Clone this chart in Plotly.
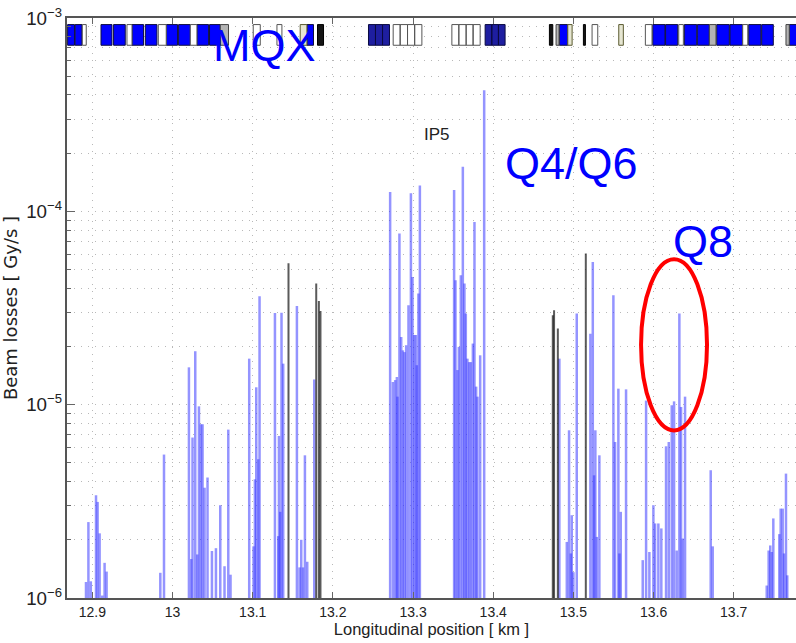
import plotly.graph_objects as go

# ---------------- data ----------------
# beam-loss monitors (blue): position [km], loss [Gy/s]
blue_pos = [12.892, 12.895, 12.898, 12.9045, 12.9065, 12.909, 12.9123, 12.9152, 12.9177,
            12.9847, 12.9893,
            13.0204, 13.0233, 13.0249, 13.0283, 13.0308, 13.0329, 13.0354, 13.0374, 13.0399,
            13.0436, 13.0491, 13.0541, 13.0595, 13.0648, 13.0695, 13.0723,
            13.0956, 13.1010, 13.1027, 13.1044, 13.1069, 13.1085,
            13.1277, 13.1318, 13.1327, 13.1343, 13.1359, 13.1380,
            13.1551, 13.1584, 13.1605, 13.1626, 13.1651, 13.1680, 13.1767,
            13.2714, 13.2748, 13.2777, 13.2798, 13.2805, 13.2830, 13.2852, 13.2873, 13.2893,
            13.2914, 13.2943, 13.2973, 13.2993, 13.3014, 13.3035, 13.3047, 13.3067, 13.3085,
            13.3512, 13.3529, 13.3554, 13.3571, 13.3596, 13.3621, 13.3641, 13.3658, 13.3678,
            13.3700, 13.3721, 13.3746, 13.3766, 13.3787, 13.3803, 13.3837, 13.3887,
            13.4825, 13.4918, 13.4946, 13.4968, 13.4980, 13.5000, 13.5042,
            13.5212, 13.5242, 13.5258, 13.5274, 13.5292, 13.5324,
            13.5499, 13.5520, 13.5561, 13.5574, 13.5591, 13.5657,
            13.5865, 13.5907, 13.5948, 13.5998, 13.6019, 13.6060, 13.6097,
            13.6156, 13.6190, 13.6227, 13.6256, 13.6289, 13.6322, 13.6343, 13.6364, 13.6393,
            13.6713, 13.6738,
            13.7412, 13.7436, 13.7456, 13.7474, 13.7494, 13.7569, 13.7586, 13.7611, 13.7627,
            13.7652, 13.7668]
blue_loss = [1.21e-6, 2.47e-6, 1.22e-6, 3.40e-6, 3.14e-6, 2.16e-6, 1.03e-6, 1.52e-6, 1.37e-6,
             1.35e-6, 5.52e-6,
             1.56e-5, 1.59e-6, 6.76e-6, 1.89e-5, 1.68e-6, 9.8e-6, 7.92e-6, 7.92e-6, 3.72e-6,
             4.2e-6, 1.75e-6, 1.81e-6, 3.02e-6, 1.46e-6, 7.43e-6, 1.32e-6,
             1.73e-5, 1.85e-6, 4.11e-6, 1.23e-5, 5.22e-6, 3.64e-5,
             2.98e-5, 2.09e-6, 6.89e-6, 2.79e-6, 2.99e-5, 1.63e-5,
             3.24e-5, 1.44e-6, 2.0e-6, 1.44e-6, 5.47e-6, 1.54e-6, 1.35e-5,
             1.26e-4, 1.31e-5, 1.34e-5, 1.39e-5, 1.1e-5, 7.67e-5, 2.24e-5, 1.91e-5, 1.87e-5,
             2.03e-5, 3.27e-5, 1.24e-4, 4.58e-5, 2.29e-5, 2.29e-5, 1.6e-5, 3.76e-5, 1.36e-4,
             1.29e-4, 4.4e-5, 1.51e-5, 1.99e-5, 4.67e-5, 1.70e-4, 4.23e-5, 2.96e-5, 1.73e-5,
             1.66e-5, 1.66e-5, 2.07e-5, 8.81e-5, 1.24e-5, 1.1e-5, 1.80e-5, 4.23e-4,
             1.73e-5, 1.95e-6, 7.37e-6, 1.70e-6, 2.68e-6, 1.36e-6, 2.96e-5,
             2.33e-5, 5.47e-5, 4.31e-6, 7.37e-6, 2.07e-6, 5.47e-6,
             3.68e-5, 6.41e-6, 1.21e-5, 1.70e-6, 2.79e-6, 1.2e-5,
             1.57e-6, 1.05e-5, 1.73e-6, 3.02e-6, 2.43e-6, 2.43e-6, 2.29e-6,
             6.09e-6, 6.41e-6, 9.93e-6, 1.04e-5, 1.76e-6, 2.96e-5, 9.73e-6, 2.03e-6, 1.1e-5,
             4.58e-6, 1.85e-6,
             1.16e-6, 1.76e-6, 1.87e-6, 1.73e-6, 2.58e-6, 2.14e-6, 2.9e-6, 2.9e-6, 1.70e-6,
             4.4e-6, 1.31e-6]

# monitors drawn in black
black_pos = [13.1446, 13.1792, 13.1825, 13.1845, 13.4743, 13.4759, 13.4806, 13.5155]
black_loss = [5.39e-5, 4.23e-5, 3.44e-5, 3.05e-5, 2.9e-5, 3.08e-5, 2.48e-5, 6.05e-5]

# lattice elements in the top band: start/end [km] and kind
elem_start = [12.8691, 12.8784, 12.9107, 12.9264, 12.9494, 12.9660, 12.9921, 13.0075, 13.0304,
              13.0461, 13.1676, 13.4825, 13.5990, 13.6150, 13.6384, 13.6546, 13.6788, 13.6954,
              13.7187, 13.7349, 13.7693,
              13.2444, 13.2531, 13.2619, 13.3899, 13.3982, 13.4065,
              12.8874, 12.9431, 12.9822, 13.0221, 13.1006, 13.1302, 13.2752, 13.2839, 13.2931,
              13.3020, 13.3484, 13.3571, 13.3662, 13.3749, 13.5233, 13.5898, 13.6314, 13.7112,
              13.0595, 13.4784, 13.6696, 13.7652,
              13.1592, 13.4930, 13.5566,
              13.1808, 13.4701, 13.5125]
elem_end = [12.8776, 12.8870, 12.9244, 12.9410, 12.9638, 12.9805, 13.0062, 13.0221, 13.0449,
            13.0595, 13.1758, 13.4930, 13.6143, 13.6302, 13.6539, 13.6696, 13.6945, 13.7112,
            13.7340, 13.7494, 13.7800,
            13.2531, 13.2619, 13.2706, 13.3982, 13.4065, 13.4148,
            12.8923, 12.9494, 12.9921, 13.0304, 13.1094, 13.1364, 13.2839, 13.2931, 13.3020,
            13.3110, 13.3571, 13.3662, 13.3749, 13.3837, 13.5304, 13.5981, 13.6372, 13.7175,
            13.0698, 13.4821, 13.6779, 13.7693,
            13.1676, 13.4984, 13.5623,
            13.1883, 13.4743, 13.5150]
elem_kind = ["B"] * 21 + ["D"] * 6 + ["W"] * 18 + ["G"] * 4 + ["O"] * 3 + ["K"] * 3

x_ticks = [12.9, 13.0, 13.1, 13.2, 13.3, 13.4, 13.5, 13.6, 13.7]
x_tick_text = ["12.9", "13", "13.1", "13.2", "13.3", "13.4", "13.5", "13.6", "13.7"]

# ---------------- figure ----------------
FONT = "Liberation Sans, Arial, Helvetica, sans-serif"
BASE = 1e-6
BAND_LO, BAND_HI = 10 ** -3.141, 10 ** -3.034


def stems(xs, ys):
    X, Y = [], []
    for x, y in zip(xs, ys):
        X += [x, x, None]
        Y += [BASE, y, None]
    return X, Y


fig = go.Figure()

bx, by = stems(blue_pos, blue_loss)
fig.add_trace(go.Scatter(x=bx, y=by, mode="lines",
                         line=dict(color="rgba(50,50,255,0.52)", width=2.5),
                         hoverinfo="skip", showlegend=False))
kx, ky = stems(black_pos, black_loss)
fig.add_trace(go.Scatter(x=kx, y=ky, mode="lines",
                         line=dict(color="rgba(20,20,20,0.7)", width=2),
                         hoverinfo="skip", showlegend=False))

styles = {
    "B": ("#0000ff", "#101040"),
    "D": ("#1e1ea0", "#0a0a40"),
    "W": ("#ffffff", "#555555"),
    "G": ("#b4b4b4", "#444444"),
    "O": ("#e6e6d2", "#5a5a30"),
    "K": ("#151515", "#000000"),
}
for kind, (fc, lc) in styles.items():
    X, Y = [], []
    for s, e, k in zip(elem_start, elem_end, elem_kind):
        if k != kind:
            continue
        X += [s, e, e, s, s, None]
        Y += [BAND_LO, BAND_LO, BAND_HI, BAND_HI, BAND_LO, None]
    fig.add_trace(go.Scatter(x=X, y=Y, mode="lines", fill="toself", fillcolor=fc,
                             line=dict(color=lc, width=1),
                             hoverinfo="skip", showlegend=False))

ann_font_big = dict(family=FONT, size=45, color="#0000ff")
fig.add_annotation(x=13.1143, y=-3.141, text="MQX", showarrow=False, font=ann_font_big)
fig.add_annotation(x=13.4975, y=-3.754, text="Q4/Q6", showarrow=False, font=ann_font_big)
fig.add_annotation(x=13.6623, y=-4.157, text="Q8", showarrow=False, font=ann_font_big)
fig.add_annotation(x=13.330, y=-3.601, text="IP5", showarrow=False,
                   font=dict(family=FONT, size=17, color="#222222"))

fig.add_shape(type="circle", xref="x", yref="paper",
              x0=13.5844, x1=13.6667, y0=0.289, y1=0.584,
              line=dict(color="#ff0000", width=4))

grid = dict(showgrid=True, gridcolor="#b8b8b8", griddash="1px,6px", gridwidth=1)

fig.update_xaxes(range=[12.8683, 13.7777], tickmode="array", tickvals=x_ticks,
                 ticktext=x_tick_text, ticks="inside", ticklen=6, tickcolor="#666",
                 showline=True, linecolor="#555", linewidth=2, mirror="ticks",
                 zeroline=False, automargin=False,
                 tickfont=dict(family=FONT, size=14, color="#222"),
                 title=dict(text="Longitudinal position [ km ]", standoff=4,
                            font=dict(family=FONT, size=16.5, color="#222")),
                 **grid)
fig.update_yaxes(type="log", range=[-6, -3], dtick=1, exponentformat="power",
                 ticks="inside", ticklen=8, tickcolor="#666",
                 showline=True, linecolor="#555", linewidth=2, mirror=False,
                 automargin=False,
                 tickfont=dict(family=FONT, size=15, color="#222"),
                 minor=dict(dtick="D1", ticks="inside", ticklen=4, tickcolor="#666",
                            showgrid=True, gridcolor="#b8b8b8", griddash="1px,6px"),
                 title=dict(text="Beam losses [ Gy/s ]", standoff=6,
                            font=dict(family="DejaVu Sans, sans-serif", size=18,
                                      color="#222")),
                 zeroline=False, **grid)

fig.update_layout(width=796, height=643, margin=dict(l=67, r=0, t=18, b=45),
                  paper_bgcolor="white", plot_bgcolor="white")

fig.write_html("out.html", config={"displayModeBar": False},
               post_script="document.body.style.margin='0px';"
                           "document.body.style.padding='0px';"
                           "document.body.style.overflow='hidden';")
